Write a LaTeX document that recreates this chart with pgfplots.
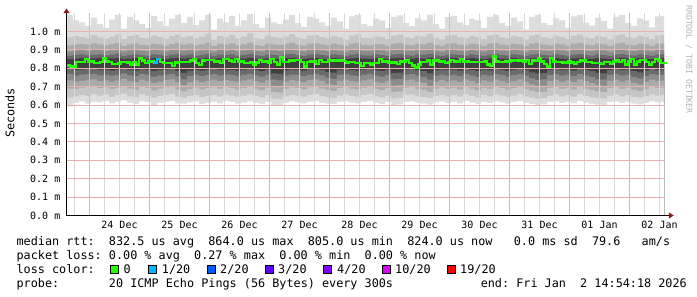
\documentclass[border=0pt]{standalone}
\usepackage{pgfplots}
\pgfplotsset{compat=1.18}
\usepackage{pgfplotstable}
\usepackage{fontspec}
\setmonofont{DejaVu Sans Mono}
\usetikzlibrary{arrows.meta}
\definecolor{cA}{HTML}{DDDDDD}
\definecolor{cB}{HTML}{C6C6C6}
\definecolor{cC}{HTML}{AAAAAA}
\definecolor{cD}{HTML}{8C8C8C}
\definecolor{cE}{HTML}{6A6A6A}
\definecolor{cF}{HTML}{404040}
\definecolor{gridred}{HTML}{EDB0B0}
\definecolor{gridgrey}{HTML}{D8D8D8}
\definecolor{arrowred}{HTML}{901C1C}
\definecolor{l0}{HTML}{26FF00}
\definecolor{l1}{HTML}{00B8FF}
\definecolor{l2}{HTML}{0059FF}
\definecolor{l3}{HTML}{5E00FF}
\definecolor{l4}{HTML}{7E00FF}
\definecolor{l10}{HTML}{DD00FF}
\definecolor{l19}{HTML}{FF0000}
\newcommand\tickfont{\ttfamily\fontsize{10bp}{12bp}\selectfont}
\newcommand\legfont{\ttfamily\fontsize{11.8bp}{14bp}\selectfont}
\newcommand\lc[1]{{\setlength\fboxsep{0pt}\setlength\fboxrule{0.9bp}\fcolorbox{black}{#1}{\rule{0pt}{7.2bp}\rule{7.2bp}{0pt}}}}

\pgfplotstableread{
x lo1 lo2 lo3 lo4 lo5 lo6 hi6 hi5 hi4 hi3 hi2 hi1
0 592 640 690 735 768 795 850 868 890 925 968 1090
2 612 648 688 728 760 790 852 872 898 930 975 1060
4 620 655 695 732 765 793 855 875 900 932 970 1050
6 608 650 698 738 768 795 850 870 895 928 962 1030
8 618 660 700 740 770 796 853 873 900 935 980 1075
10 615 652 692 730 762 790 856 876 902 930 968 1040
12 622 658 696 735 766 792 851 870 894 925 960 1020
14 610 645 688 728 760 788 854 874 898 932 972 1065
16 618 655 694 734 764 792 855 878 905 938 985 1090
18 625 662 702 742 772 798 850 868 892 922 958 1015
20 612 648 690 730 762 790 853 872 898 930 975 1080
22 605 642 684 725 758 787 856 875 900 935 980 1060
24 620 658 698 738 768 794 852 870 895 926 966 1040
26 616 652 694 732 764 792 851 869 893 924 962 1020
28 600 640 680 720 755 785 855 876 902 934 978 1085
30 612 650 690 728 760 790 853 873 898 930 970 1055
32 618 656 696 736 766 793 850 868 892 922 960 1030
34 622 660 700 740 770 796 854 874 900 932 976 1070
36 610 646 686 724 756 786 856 877 904 938 985 1090
38 608 640 675 708 740 775 852 870 896 928 968 1045
40 615 650 688 725 758 788 855 875 900 934 975 1080
42 620 656 695 735 765 792 851 869 893 924 962 1035
44 605 645 686 726 758 788 853 872 897 930 972 1060
46 612 650 692 732 763 791 857 878 905 940 988 1092
48 618 656 698 738 768 795 850 867 890 920 956 1010
50 610 648 690 730 762 790 854 874 900 934 976 1070
52 622 658 698 736 766 793 852 871 896 928 968 1050
54 616 652 692 732 764 792 855 876 902 936 982 1085
56 608 645 686 726 758 788 851 869 894 925 963 1030
58 614 652 694 734 765 793 853 873 898 930 972 1060
60 620 658 700 740 770 796 856 877 904 940 990 1094
62 612 650 690 730 762 790 852 870 895 926 966 1040
64 605 642 682 722 755 785 850 868 892 922 958 1020
66 618 655 695 735 766 793 854 874 900 934 978 1075
68 600 635 670 705 738 772 853 872 897 930 970 1050
70 596 632 668 700 735 770 851 869 894 926 965 1040
72 612 648 688 728 760 789 855 875 900 933 974 1065
74 620 656 696 736 766 793 857 878 905 940 986 1090
76 615 652 692 732 764 792 852 871 896 928 968 1045
78 610 646 686 726 758 788 850 868 892 923 960 1025
80 618 655 696 736 766 794 854 874 900 934 978 1080
82 622 660 700 740 770 796 856 876 902 936 980 1070
84 612 650 690 730 762 790 853 872 897 930 970 1050
86 608 645 682 715 748 780 851 869 893 924 962 1030
88 606 640 676 710 742 776 855 875 900 934 976 1075
90 616 652 692 732 764 792 852 871 896 928 968 1055
92 620 658 698 738 768 795 850 868 891 921 956 1015
94 614 650 690 730 762 790 854 874 900 934 978 1082
96 610 646 686 726 758 788 856 877 904 938 985 1090
98 618 655 695 735 766 793 852 870 895 927 966 1040
100 622 660 700 740 770 796 851 869 893 924 962 1030
102 612 648 688 728 760 789 855 875 900 932 974 1070
104 605 642 682 722 755 785 853 872 897 930 970 1060
106 616 652 692 732 764 792 850 868 892 922 958 1020
108 600 636 672 706 740 774 854 874 900 934 978 1080
110 604 640 675 708 742 776 856 877 904 938 984 1088
112 618 655 695 735 766 793 852 871 896 928 968 1045
114 620 658 698 738 768 795 851 869 893 924 962 1030
116 612 648 688 728 760 789 855 875 900 934 976 1072
118 608 644 684 722 754 784 853 873 898 930 972 1060
120 602 638 672 705 738 772 857 878 905 940 988 1092
122 615 650 690 728 760 789 852 870 895 926 966 1040
124 620 656 696 736 766 793 850 868 891 921 957 1015
126 612 648 688 728 760 790 854 874 900 934 978 1078
128 618 655 695 735 766 793 856 876 902 936 982 1085
130 610 646 686 726 758 788 852 871 896 928 968 1050
132 622 660 700 740 770 796 851 869 893 924 962 1035
134 614 650 690 730 762 790 855 875 900 934 976 1070
136 606 642 682 720 752 784 853 872 897 930 970 1060
138 618 655 695 735 766 793 850 868 892 922 958 1020
140 612 648 688 728 760 789 854 874 900 934 978 1080
142 620 658 698 738 768 795 856 877 904 938 985 1090
144 615 652 692 732 764 792 852 871 896 928 968 1045
146 608 645 684 722 755 786 851 869 893 924 962 1030
148 616 652 692 732 764 792 855 875 900 934 976 1075
150 622 660 700 740 770 796 853 872 897 930 970 1055
152 612 648 688 728 760 790 850 868 891 921 956 1012
154 605 640 678 712 745 778 854 874 900 934 978 1080
156 600 635 670 704 736 772 856 877 904 938 985 1090
158 604 638 672 706 740 774 852 871 896 928 968 1045
160 616 652 692 732 764 792 851 869 893 924 962 1035
162 620 658 698 738 768 795 855 875 900 934 976 1072
164 612 648 688 728 760 790 853 872 897 930 970 1060
166 618 655 695 735 766 793 850 868 892 922 958 1020
168 610 646 686 726 758 788 854 874 900 934 978 1082
170 622 660 700 740 770 796 856 877 904 938 984 1090
172 614 650 690 730 762 790 852 871 896 928 968 1048
174 606 642 682 720 752 784 851 869 893 924 962 1032
176 602 638 674 708 740 775 855 875 900 934 976 1075
178 600 636 670 704 738 772 853 872 897 930 970 1058
180 616 652 692 732 764 792 850 868 891 921 957 1015
182 620 658 698 738 768 795 854 874 900 934 978 1080
184 612 648 688 728 760 790 856 877 904 938 985 1090
186 618 655 695 735 766 793 852 871 896 928 968 1045
188 608 644 684 722 754 785 851 869 893 924 962 1030
190 604 640 676 712 745 778 855 875 900 934 976 1072
192 612 648 688 726 758 788 853 872 897 930 970 1060
194 620 658 698 738 768 795 850 868 892 922 958 1022
196 615 652 692 732 764 792 854 874 900 934 978 1082
198 618 655 695 735 766 793 856 876 902 936 982 1085
200 618 655 695 735 766 793 856 876 902 936 982 1085
}\smoke

\pgfplotstableread{
x med
0 815
1 809
2 809
3 833
4 833
5 835
6 849
7 838
8 838
9 828
10 828
11 833
12 853
13 838
14 835
15 824
16 824
17 826
18 835
19 833
20 831
21 820
22 835
23 820
24 853
25 842
26 828
27 838
28 838
29 831
30 849
31 835
32 828
33 828
34 828
35 813
36 831
37 833
38 833
39 833
40 835
41 842
42 851
43 828
44 817
45 842
46 845
47 845
48 845
49 838
50 838
51 828
52 851
53 851
54 842
55 835
56 851
57 838
58 838
59 828
60 828
61 833
62 820
63 831
64 845
65 838
66 838
67 828
68 849
69 833
70 820
71 860
72 835
73 835
74 842
75 842
76 845
77 845
78 833
79 809
80 833
81 838
82 838
83 824
84 845
85 835
86 835
87 842
88 842
89 842
90 842
91 842
92 840
93 831
94 833
95 833
96 828
97 828
98 813
99 828
100 828
101 820
102 828
103 828
104 851
105 838
106 838
107 828
108 831
109 831
110 824
111 838
112 838
113 845
114 828
115 815
116 805
117 820
118 833
119 833
120 842
121 817
122 842
123 842
124 838
125 838
126 828
127 833
128 845
129 838
130 838
131 851
132 838
133 838
134 833
135 833
136 833
137 833
138 833
139 838
140 820
141 813
142 864
143 838
144 833
145 833
146 838
147 838
148 842
149 845
150 842
151 842
152 838
153 845
154 824
155 842
156 842
157 856
158 838
159 824
160 809
161 856
162 838
163 833
164 833
165 831
166 831
167 838
168 831
169 824
170 835
171 842
172 842
173 833
174 833
175 828
176 828
177 828
178 824
179 833
180 833
181 824
182 838
183 842
184 833
185 845
186 820
187 838
188 851
189 820
190 838
191 845
192 845
193 835
194 820
195 835
196 851
197 842
198 828
199 828
200 828
}\med

\begin{document}
\begin{tikzpicture}
\fill[white] (-66.5bp,-81.5bp) rectangle (630.5bp,215.5bp);
\begin{axis}[
  at={(0,0)}, anchor=south west,
  scale only axis, width=597.5bp, height=202.4bp,
  xmin=-0.16667, xmax=199, ymin=0, ymax=1100,
  axis x line=bottom, axis y line=left,
  set layers=axis on top,
  x axis line style={black, line width=1bp, shorten >=-9.8bp, -{Triangle[length=5bp,width=6bp,color=arrowred]}},
  y axis line style={black, line width=1bp, shorten >=-4.5bp, -{Triangle[length=4.5bp,width=6bp,color=arrowred]}},
  xtick={7.5,27.5,47.5,67.5,87.5,107.5,127.5,147.5,167.5,187.5},
  xticklabels={},
  minor xtick={2.5,12.5,17.5,22.5,32.5,37.5,42.5,52.5,57.5,62.5,72.5,77.5,82.5,92.5,97.5,102.5,112.5,117.5,122.5,132.5,137.5,142.5,152.5,157.5,162.5,172.5,177.5,182.5,192.5,197.5},
  extra x ticks={17.5,37.5,57.5,77.5,97.5,117.5,137.5,157.5,177.5,197.5},
  extra x tick labels={24 Dec,25 Dec,26 Dec,27 Dec,28 Dec,29 Dec,30 Dec,31 Dec,01 Jan,02 Jan},
  extra x tick style={grid=none},
  ytick={0,100,200,300,400,500,600,700,800,900,1000},
  yticklabels={0.0 m,0.1 m,0.2 m,0.3 m,0.4 m,0.5 m,0.6 m,0.7 m,0.8 m,0.9 m,1.0 m},
  xmajorgrids, xminorgrids, ymajorgrids,
  major grid style={gridred, line width=0.9bp},
  minor grid style={gridgrey, line width=0.9bp},
  major tick length=0pt, minor tick length=0pt,
  tick label style={font=\tickfont, black},
  xticklabel style={anchor=north, inner sep=0pt, yshift=-5.5bp},
  yticklabel style={anchor=east, inner sep=0pt, xshift=-6bp},
]
\addplot[fill=cA, draw=none, const plot] table[x=x,y=hi1]{\smoke} \closedcycle;
\addplot[fill=cB, draw=none, const plot] table[x=x,y=hi2]{\smoke} \closedcycle;
\addplot[fill=cC, draw=none, const plot] table[x=x,y=hi3]{\smoke} \closedcycle;
\addplot[fill=cD, draw=none, const plot] table[x=x,y=hi4]{\smoke} \closedcycle;
\addplot[fill=cE, draw=none, const plot] table[x=x,y=hi5]{\smoke} \closedcycle;
\addplot[fill=cF, draw=none, const plot] table[x=x,y=hi6]{\smoke} \closedcycle;
\addplot[fill=cE, draw=none, const plot] table[x=x,y=lo6]{\smoke} \closedcycle;
\addplot[fill=cD, draw=none, const plot] table[x=x,y=lo5]{\smoke} \closedcycle;
\addplot[fill=cC, draw=none, const plot] table[x=x,y=lo4]{\smoke} \closedcycle;
\addplot[fill=cB, draw=none, const plot] table[x=x,y=lo3]{\smoke} \closedcycle;
\addplot[fill=cA, draw=none, const plot] table[x=x,y=lo2]{\smoke} \closedcycle;
\addplot[fill=white, draw=none, const plot] table[x=x,y=lo1]{\smoke} \closedcycle;
\addplot[l0, line width=2.4bp, const plot, on layer=axis foreground] table[x=x,y=med]{\med};
\addplot[l1, line width=2.4bp, const plot, on layer=axis foreground] coordinates {(29,831) (30,849) (31,849)};
\end{axis}
\node[rotate=90, font=\legfont, inner sep=0pt] at (-56.5bp,102.5bp) {Seconds};
\node[rotate=-90, anchor=west, font=\ttfamily\fontsize{8.2bp}{10bp}\selectfont, text=black!30, inner sep=0pt] at (622.5bp,210.5bp) {RRDTOOL / TOBI OETIKER};
\begin{scope}[every node/.style={font=\legfont, inner sep=0pt, anchor=base west}]
\node at (-50.1bp,-29.8bp) {median~rtt:~~832.5~us~avg~~864.0~us~max~~805.0~us~min~~824.0~us~now~~~0.0~ms~sd~~79.6~~~am/s};
\node at (-50.1bp,-43.8bp) {packet~loss:~0.00~\%~avg~~0.27~\%~max~~0.00~\%~min~~0.00~\%~now};
\node at (-50.1bp,-57.8bp) {loss~color:};
\node at (43.1bp,-57.8bp) {\lc{l0}};
\node at (57bp,-57.8bp) {0};
\node at (80.8bp,-57.8bp) {\lc{l1}};
\node at (95.2bp,-57.8bp) {1/20};
\node at (140.1bp,-57.8bp) {\lc{l2}};
\node at (153.5bp,-57.8bp) {2/20};
\node at (198.5bp,-57.8bp) {\lc{l3}};
\node at (211.5bp,-57.8bp) {3/20};
\node at (256.5bp,-57.8bp) {\lc{l4}};
\node at (270.5bp,-57.8bp) {4/20};
\node at (315.5bp,-57.8bp) {\lc{l10}};
\node at (328.5bp,-57.8bp) {10/20};
\node at (380.5bp,-57.8bp) {\lc{l19}};
\node at (393.5bp,-57.8bp) {19/20};
\node at (-50.1bp,-71.8bp) {probe:~~~~~~~20~ICMP~Echo~Pings~(56~Bytes)~every~300s};
\node[anchor=base east] at (620.5bp,-71.8bp) {end:~Fri~Jan~~2~14:54:18~2026};
\end{scope}
\end{tikzpicture}
\end{document}
